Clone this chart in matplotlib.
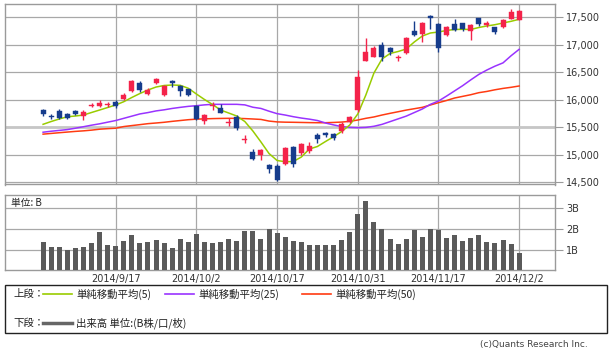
import matplotlib
matplotlib.use('Agg')
import matplotlib.pyplot as plt
import numpy as np
from matplotlib.lines import Line2D
from matplotlib.patches import Rectangle

# ---------------- data ----------------
dates = ["9/3", "9/4", "9/5", "9/8", "9/9", "9/10", "9/11", "9/12", "9/16", "9/17",
         "9/18", "9/19", "9/22", "9/24", "9/25", "9/26", "9/29", "9/30", "10/1", "10/2",
         "10/3", "10/6", "10/7", "10/8", "10/9", "10/10", "10/14", "10/15", "10/16", "10/17",
         "10/20", "10/21", "10/22", "10/23", "10/24", "10/27", "10/28", "10/29", "10/30", "10/31",
         "11/4", "11/5", "11/6", "11/7", "11/10", "11/11", "11/12", "11/13", "11/14", "11/17",
         "11/18", "11/19", "11/20", "11/21", "11/25", "11/26", "11/27", "11/28", "12/1", "12/2"]

opens = [15811, 15711, 15802, 15730, 15799, 15702, 15888, 15884, 15903, 15952,
         16008, 16163, 16298, 16094, 16309, 16076, 16340, 16249, 16189, 15884,
         15611, 15884, 15853, 15584, 15679, 15274, 15046, 14986, 14819, 14801,
         14824, 15138, 15023, 15070, 15356, 15398, 15374, 15434, 15598, 15811,
         16709, 16771, 16995, 16935, 16755, 16855, 17250, 17190, 17524, 17378,
         17178, 17378, 17391, 17250, 17482, 17351, 17318, 17318, 17464, 17451]
highs = [15835, 15733, 15821, 15748, 15817, 15811, 15939, 15985, 15957, 15985,
         16121, 16367, 16331, 16212, 16394, 16267, 16349, 16267, 16203, 15903,
         15739, 15963, 15921, 15660, 15720, 15356, 15096, 15096, 14837, 14828,
         15138, 15156, 15216, 15234, 15398, 15416, 15387, 15598, 15702, 16540,
         17128, 16986, 17045, 16950, 16813, 17147, 17438, 17420, 17533, 17396,
         17342, 17464, 17405, 17378, 17487, 17433, 17323, 17464, 17646, 17633]
lows = [15711, 15653, 15648, 15653, 15715, 15638, 15861, 15866, 15866, 15857,
        15985, 16139, 16148, 16076, 16294, 16066, 16236, 16072, 16066, 15638,
        15556, 15811, 15751, 15520, 15447, 15216, 14901, 14901, 14658, 14518,
        14810, 14773, 14992, 15034, 15216, 15314, 15265, 15398, 15580, 15780,
        16709, 16771, 16709, 16813, 16709, 16832, 17159, 17056, 17281, 16873,
        17168, 17250, 17250, 17087, 17342, 17329, 17190, 17314, 17460, 17451]
closes = [15730, 15678, 15657, 15675, 15739, 15784, 15906, 15948, 15921, 15884,
          16085, 16340, 16185, 16185, 16376, 16249, 16312, 16163, 16079, 15653,
          15720, 15897, 15762, 15602, 15478, 15292, 14928, 15077, 14746, 14536,
          15114, 14828, 15187, 15161, 15278, 15356, 15296, 15556, 15679, 16407,
          16873, 16935, 16782, 16862, 16773, 17128, 17178, 17387, 17482, 16946,
          17329, 17269, 17281, 17360, 17372, 17387, 17227, 17451, 17591, 17615]

ma5 = [15551, 15602, 15648, 15689, 15702, 15720, 15766, 15811, 15857, 15903,
       15963, 16040, 16112, 16176, 16230, 16258, 16267, 16261, 16207, 16103,
       16003, 15912, 15811, 15757, 15702, 15602, 15429, 15229, 15019, 14892,
       14870, 14873, 14955, 15101, 15147, 15238, 15325, 15420, 15538, 15739,
       16085, 16485, 16740, 16841, 16877, 16923, 17050, 17159, 17214, 17232,
       17260, 17278, 17281, 17278, 17314, 17342, 17365, 17396, 17427, 17464]
ma25 = [15407, 15425, 15440, 15455, 15480, 15507, 15535, 15560, 15590, 15620,
        15660, 15700, 15740, 15765, 15795, 15815, 15840, 15860, 15878, 15890,
        15905, 15915, 15915, 15915, 15915, 15905, 15862, 15840, 15790, 15745,
        15720, 15690, 15665, 15645, 15620, 15575, 15540, 15510, 15495, 15489,
        15495, 15515, 15550, 15600, 15650, 15700, 15765, 15830, 15915, 15975,
        16065, 16160, 16255, 16360, 16460, 16540, 16610, 16670, 16800, 16917]
ma50 = [15372, 15385, 15398, 15410, 15422, 15432, 15445, 15462, 15472, 15480,
        15510, 15528, 15545, 15563, 15575, 15588, 15605, 15620, 15635, 15645,
        15650, 15655, 15658, 15660, 15660, 15655, 15648, 15640, 15610, 15595,
        15590, 15588, 15585, 15582, 15580, 15580, 15585, 15592, 15605, 15629,
        15660, 15685, 15720, 15751, 15780, 15810, 15835, 15860, 15903, 15945,
        15985, 16030, 16060, 16090, 16127, 16150, 16180, 16205, 16225, 16249]

volume = [1.39, 1.11, 1.11, 0.98, 1.06, 1.11, 1.31, 1.85, 1.21, 1.16,
          1.44, 1.71, 1.31, 1.35, 1.48, 1.31, 1.08, 1.52, 1.39, 1.77,
          1.39, 1.31, 1.35, 1.52, 1.44, 1.90, 1.90, 1.52, 2.00, 1.81,
          1.61, 1.44, 1.39, 1.21, 1.21, 1.21, 1.21, 1.48, 1.85, 2.73,
          3.37, 2.35, 2.00, 1.53, 1.26, 1.53, 1.94, 1.63, 2.00, 1.95,
          1.58, 1.73, 1.44, 1.58, 1.73, 1.39, 1.31, 1.48, 1.26, 0.85]

tick_dates = ["9/17", "10/2", "10/17", "10/31", "11/17", "12/2"]
tick_labels = ["2014/9/17", "2014/10/2", "2014/10/17", "2014/10/31", "2014/11/17", "2014/12/2"]
price_ticks = [14500, 15000, 15500, 16000, 16500, 17000, 17500]
vol_ticks = [1, 2, 3]
vol_labels = ["1B", "2B", "3B"]

# ---------------- style ----------------
UP = '#f4234a'
DOWN = '#163c8c'
C5, C25, C50 = '#99cc00', '#9933ff', '#ff3b12'
VOLC = '#5a5a5a'
GRID = '#a8a8a8'
SPINE = '#9a9a9a'
JP = ['Noto Sans CJK JP', 'DejaVu Sans']

W, H = 610, 353
fig = plt.figure(figsize=(W / 100, H / 100), dpi=100)
fig.patch.set_facecolor('white')


def rect(l, t, r, b):
    return [l / W, 1 - b / H, (r - l) / W, (b - t) / H]


def fx(x):
    return x / W


def fy(y):
    return 1 - y / H


x = np.arange(len(dates))
tick_pos = [dates.index(d) for d in tick_dates]
XLIM = (-4.72, 63.44)

# ---------------- price panel ----------------
ax = fig.add_axes(rect(5, 4, 555, 184.5))
ax.set_xlim(*XLIM)
ax.set_ylim(14455, 17742)
ax.set_yticks(price_ticks)
ax.set_yticklabels([f"{v:,}" for v in price_ticks])
ax.yaxis.tick_right()
ax.set_xticks(tick_pos)
ax.set_xticklabels([])
ax.tick_params(axis='x', length=0)
ax.tick_params(axis='y', length=6, width=0.8, color=SPINE, labelsize=7,
               pad=2, labelcolor='#333333')
ax.grid(True, color=GRID, lw=0.9, zorder=0)
ax.set_axisbelow(True)
ax.axhline(15500, color='#c6c6c6', lw=2.0, zorder=0.6)
for s in ax.spines.values():
    s.set_color(SPINE)
    s.set_linewidth(1)

ax.plot(x, ma50, color=C50, lw=1.1, zorder=2)
ax.plot(x, ma25, color=C25, lw=1.1, zorder=2)
ax.plot(x, ma5, color=C5, lw=1.1, zorder=2)

o = np.array(opens, float)
c = np.array(closes, float)
cols = [UP if cc >= oo else DOWN for oo, cc in zip(o, c)]
ax.vlines(x, lows, highs, colors=cols, lw=1.0, zorder=3)
bottoms = np.minimum(o, c)
heights = np.maximum(np.abs(c - o), 14)
ax.bar(x, heights, bottom=bottoms, width=0.62, color=cols, edgecolor=cols,
       lw=0.3, zorder=4)

# ---------------- volume panel ----------------
axv = fig.add_axes(rect(5, 195, 555, 270.3))
axv.set_xlim(*XLIM)
axv.set_ylim(0, 3.64)
axv.bar(x, volume, width=0.62, color=VOLC, zorder=3)
axv.set_yticks(vol_ticks)
axv.set_yticklabels(vol_labels)
axv.yaxis.tick_right()
axv.set_xticks(tick_pos)
axv.set_xticklabels(tick_labels, fontsize=7, color='#333333')
axv.tick_params(axis='x', length=0, pad=3)
axv.tick_params(axis='y', length=6, width=0.8, color=SPINE, labelsize=7,
                pad=2, labelcolor='#333333')
axv.grid(True, color=GRID, lw=0.9, zorder=0)
axv.set_axisbelow(True)
for s in axv.spines.values():
    s.set_color(SPINE)
    s.set_linewidth(1)
axv.text(fx(11), fy(203), "単位: B", transform=fig.transFigure, family=JP,
         fontsize=7, va='center', ha='left', color='#222222')

# ---------------- legend box ----------------
fig.add_artist(Rectangle((fx(5), fy(333)), (607 - 5) / W, (333 - 285) / H,
                         transform=fig.transFigure, fill=False, ec='#222222', lw=1))
row1, row2 = 294, 323
fig.text(fx(13), fy(row1), "上段：", family=JP, fontsize=7.5, va='center', color='#222222')
fig.text(fx(13), fy(row2), "下段：", family=JP, fontsize=7.5, va='center', color='#222222')
for (x0, x1, col, lab) in [(43, 72, C5, "単純移動平均(5)"),
                           (165, 194, C25, "単純移動平均(25)"),
                           (302, 331, C50, "単純移動平均(50)")]:
    fig.add_artist(Line2D([fx(x0), fx(x1)], [fy(row1)] * 2, transform=fig.transFigure,
                          color=col, lw=1.2))
    fig.text(fx(x1 + 4), fy(row1), lab, family=JP, fontsize=7.5, va='center',
             color='#222222')
fig.add_artist(Line2D([fx(43), fx(72)], [fy(row2)] * 2, transform=fig.transFigure,
                      color='#666666', lw=2.5))
fig.text(fx(76), fy(row2), "出来高 単位:(B株/口/枚)", family=JP, fontsize=7.5,
         va='center', color='#222222')

fig.text(fx(588), fy(344), "(c)Quants Research Inc.", fontsize=6.5, ha='right',
         va='center', color='#444444')

fig.savefig('out.png', dpi=100)
